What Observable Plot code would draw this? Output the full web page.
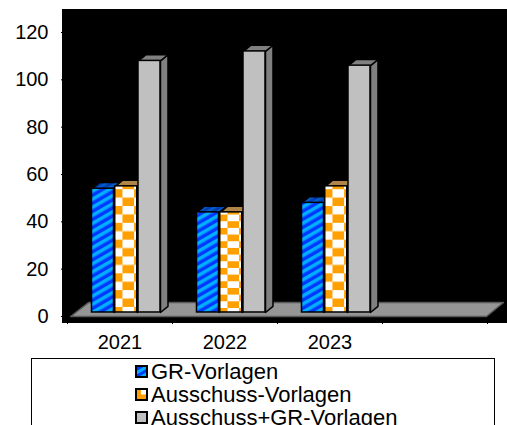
<!DOCTYPE html>
<html>
<head>
<meta charset="utf-8">
<script src="https://cdn.jsdelivr.net/npm/d3@7"></script>
<script src="https://cdn.jsdelivr.net/npm/@observablehq/plot@0.6"></script>
<style>
html,body{margin:0;padding:0;background:#fff;overflow:hidden;width:507px;height:425px}
svg{display:block}
#legend{position:absolute;left:31px;top:358px;width:462px;height:80px;border:1px solid #000;box-sizing:content-box;font:22px "Liberation Sans",Arial,sans-serif;color:#000}
.row{position:absolute;left:102px;height:23px;line-height:23px;white-space:nowrap;display:flex;align-items:center}
.row svg{margin-right:3px;margin-left:1px}
</style>
</head>
<body>
<div id="chart"></div>
<div id="legend"></div>
<script>
const years = ["2021", "2022", "2023"];
const seriesNames = ["GR-Vorlagen", "Ausschuss-Vorlagen", "Ausschuss+GR-Vorlagen"];
const grVorlagen = [54, 44, 48];
const ausschussVorlagen = [55, 44, 55];
const ausschussGrVorlagen = [108, 112, 106];
const yTicks = [0, 20, 40, 60, 80, 100, 120];

const seriesValues = [grVorlagen, ausschussVorlagen, ausschussGrVorlagen];
const frontFills = ["url(#hatch)", "url(#check)", "#c0c0c0"];
const topFills = ["url(#hatchTop)", "#b0854a", "#808080"];
const sideFills = ["#0038a0", "#a07030", "#808080"];
const swatchFills = ["url(#hatchSwatch)", "url(#checkSwatch)", "#c0c0c0"];

// Geometry expressed in scale units (x: one unit = one category slot)
const barOffset = 0.2333, barStep = 0.2214, barWidth = 0.2095;
const depthX = 0.0714, depthY = 2.6, base = 1.7;

const poly = (points) => points.map(([x, y]) => ({x, y}));
const face = (points, fill, stroke = "#000") =>
  Plot.line(poly(points), {x: "x", y: "y", curve: "linear-closed", fill, stroke, strokeWidth: 1.5});

const floorShape = [[0.03, 0], [3.99, 0], [4.152, 5.9], [0.2, 5.9]];

const barMarks = seriesValues.flatMap((values, s) =>
  values.flatMap((v, i) => {
    const x0 = i + barOffset + s * barStep, x1 = x0 + barWidth;
    return [
      face([[x1, base], [x1 + depthX, base + depthY], [x1 + depthX, v + depthY], [x1, v]], sideFills[s]),
      face([[x0, v], [x1, v], [x1 + depthX, v + depthY], [x0 + depthX, v + depthY]], topFills[s]),
      Plot.rect([v], {x1: () => x0, x2: () => x1, y1: () => base, y2: d => d,
        fill: frontFills[s], stroke: "#000", strokeWidth: 1.5})
    ];
  })
);

function stripes(sel, id, a, b, size) {
  const p = sel.append("pattern").attr("id", id).attr("patternUnits", "userSpaceOnUse")
    .attr("width", size).attr("height", size).attr("patternTransform", "rotate(-30)");
  p.append("rect").attr("width", size).attr("height", size).attr("fill", a);
  p.append("rect").attr("width", size).attr("height", size / 2).attr("fill", b);
}
function defs() {
  const g = d3.create("svg:defs");
  stripes(g, "hatch", "#0038ff", "#00b0ff", 7);
  stripes(g, "hatchTop", "#0038b0", "#0060c8", 5);
  stripes(g, "hatchSwatch", "#0038ff", "#00b0ff", 6);
  // The checkerboard is stretched to each bar: 15 rows per bar, as in the reference
  const cw = 0.53, rh = 1 / 15;
  const c = g.append("pattern").attr("id", "check")
    .attr("patternContentUnits", "objectBoundingBox")
    .attr("x", -0.18).attr("y", 0.4 * rh).attr("width", 2 * cw).attr("height", 2 * rh);
  c.append("rect").attr("width", 2 * cw).attr("height", 2 * rh).attr("fill", "#fff");
  c.append("rect").attr("width", cw).attr("height", rh).attr("fill", "#ffa000");
  c.append("rect").attr("x", cw).attr("y", rh).attr("width", cw).attr("height", rh).attr("fill", "#ffa000");
  const sw = g.append("pattern").attr("id", "checkSwatch")
    .attr("patternContentUnits", "objectBoundingBox").attr("width", 1).attr("height", 1);
  sw.append("rect").attr("width", 1).attr("height", 1).attr("fill", "#ffa000");
  sw.append("rect").attr("x", 0.45).attr("y", 0).attr("width", 0.55).attr("height", 0.5).attr("fill", "#fff");
  return g.node();
}

const chart = Plot.plot({
  width: 507,
  height: 358,
  marginLeft: 62,
  marginRight: 0,
  marginTop: 9,
  marginBottom: 36,
  style: {fontFamily: "'Liberation Sans',Arial,sans-serif", background: "#fff", overflow: "visible"},
  x: {domain: [0, 4], range: [67, 487]},
  y: {domain: [0, 120], range: [316, 32]},
  marks: [
    defs,
    Plot.frame({fill: "#000", stroke: "#000"}),
    face(floorShape, "#969696", "#5a5a5a"),
    ...barMarks,
    Plot.axisY({ticks: yTicks, tickSize: 1, tickPadding: 13, fontSize: 20, label: null, color: "#000"}),
    Plot.axisX({ticks: [0, 1, 2, 3, 4], tickSize: 2, tickFormat: () => "", label: null}),
    Plot.text(years, {x: (d, i) => i + 0.5, frameAnchor: "bottom", lineAnchor: "middle", dy: 20, text: d => d, fontSize: 20, fill: "#000", stroke: null})
  ]
});
document.getElementById("chart").append(chart);

const legend = d3.select("#legend");
seriesNames.forEach((name, s) => {
  const row = legend.append("div").attr("class", "row").style("top", (1 + s * 23) + "px");
  const sw = row.append("svg").attr("width", 13).attr("height", 13);
  sw.append("rect").attr("x", 1).attr("y", 1).attr("width", 11).attr("height", 11)
    .attr("fill", swatchFills[s]).attr("stroke", "#000").attr("stroke-width", 2);
  row.append("span").text(name);
});
</script>
</body>
</html>
